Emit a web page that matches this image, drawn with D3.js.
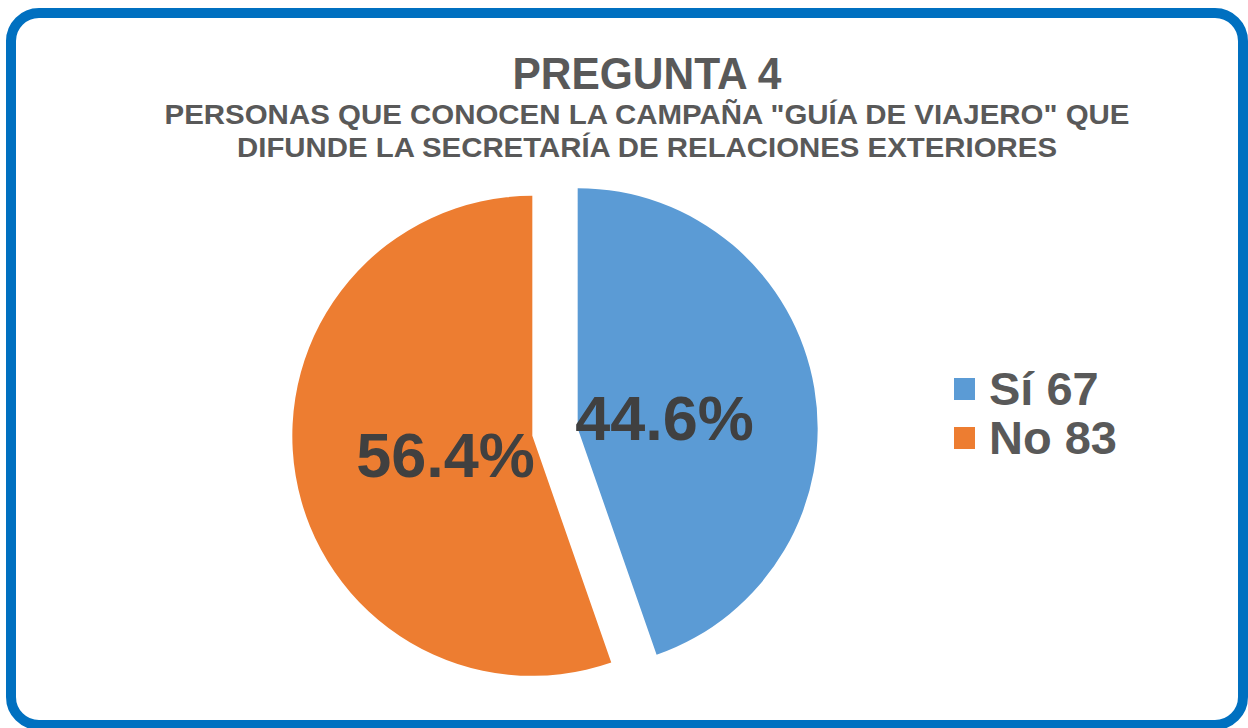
<!DOCTYPE html>
<html>
<head>
<meta charset="utf-8">
<script src="https://cdn.jsdelivr.net/npm/d3@7"></script>
<style>
  body { margin: 0; background: #fff; }
  text { font-family: "Liberation Sans", Arial, sans-serif; font-weight: bold; }
</style>
</head>
<body>
<div id="chart"></div>
<script>
var width = 1248;
var height = 728;

var categories = ["Sí", "No"];
var counts = [67, 83];
var pctLabels = ["44.6%", "56.4%"];
var colors = ["#5B9BD5", "#ED7D31"];

var svg = d3.select("#chart")
  .append("svg")
  .attr("width", width)
  .attr("height", height);

// rounded blue frame
svg.append("rect")
  .attr("x", 11)
  .attr("y", 13)
  .attr("width", 1232)
  .attr("height", 712)
  .attr("rx", 28)
  .attr("fill", "#fff")
  .attr("stroke", "#0070C0")
  .attr("stroke-width", 10);

// titles
svg.append("text")
  .attr("x", 647)
  .attr("y", 89)
  .attr("text-anchor", "middle")
  .attr("font-size", 44)
  .attr("fill", "#595959")
  .attr("textLength", 269)
  .attr("lengthAdjust", "spacingAndGlyphs")
  .text("PREGUNTA 4");

var subLines = ["PERSONAS QUE CONOCEN LA CAMPAÑA \"GUÍA DE VIAJERO\" QUE", "DIFUNDE LA SECRETARÍA DE RELACIONES EXTERIORES"];
var subWidths = [965, 820];
svg.selectAll(".sub")
  .data(subLines)
  .enter()
  .append("text")
  .attr("class", "sub")
  .attr("x", 647)
  .attr("y", function(d, i) { return 124 + i * 33; })
  .attr("text-anchor", "middle")
  .attr("font-size", 28)
  .attr("fill", "#595959")
  .attr("textLength", function(d, i) { return subWidths[i]; })
  .attr("lengthAdjust", "spacingAndGlyphs")
  .text(function(d) { return d; });

// pie
var cx = 555, cy = 432, radius = 240, explode = 23;
var pie = d3.pie().sort(null).value(function(d) { return d; });
var arcs = pie(counts);
var arc = d3.arc().innerRadius(0).outerRadius(radius);

var g = svg.append("g").attr("transform", "translate(" + cx + "," + cy + ")");

function offset(d, r) {
  var a = (d.startAngle + d.endAngle) / 2;
  return [Math.sin(a) * r, -Math.cos(a) * r];
}

var slices = g.selectAll(".slice")
  .data(arcs)
  .enter()
  .append("g")
  .attr("class", "slice")
  .attr("transform", function(d) {
    var o = offset(d, explode);
    return "translate(" + o[0] + "," + o[1] + ")";
  });

slices.append("path")
  .attr("d", arc)
  .attr("fill", function(d, i) { return colors[i]; });

slices.append("text")
  .attr("x", function(d) { return offset(d, 88)[0]; })
  .attr("y", function(d) { return offset(d, 88)[1] + 4; })
  .attr("dy", "0.36em")
  .attr("text-anchor", "middle")
  .attr("font-size", 63)
  .attr("fill", "#404040")
  .text(function(d, i) { return pctLabels[i]; });

// legend
var legend = svg.selectAll(".legend")
  .data(categories)
  .enter()
  .append("g")
  .attr("class", "legend")
  .attr("transform", function(d, i) { return "translate(954," + (378 + i * 49) + ")"; });

legend.append("rect")
  .attr("width", 21)
  .attr("height", 22)
  .attr("fill", function(d, i) { return colors[i]; });

legend.append("text")
  .attr("x", 35)
  .attr("y", 27)
  .attr("font-size", 47)
  .attr("fill", "#595959")
  .text(function(d, i) { return d + " " + counts[i]; });
</script>
</body>
</html>
